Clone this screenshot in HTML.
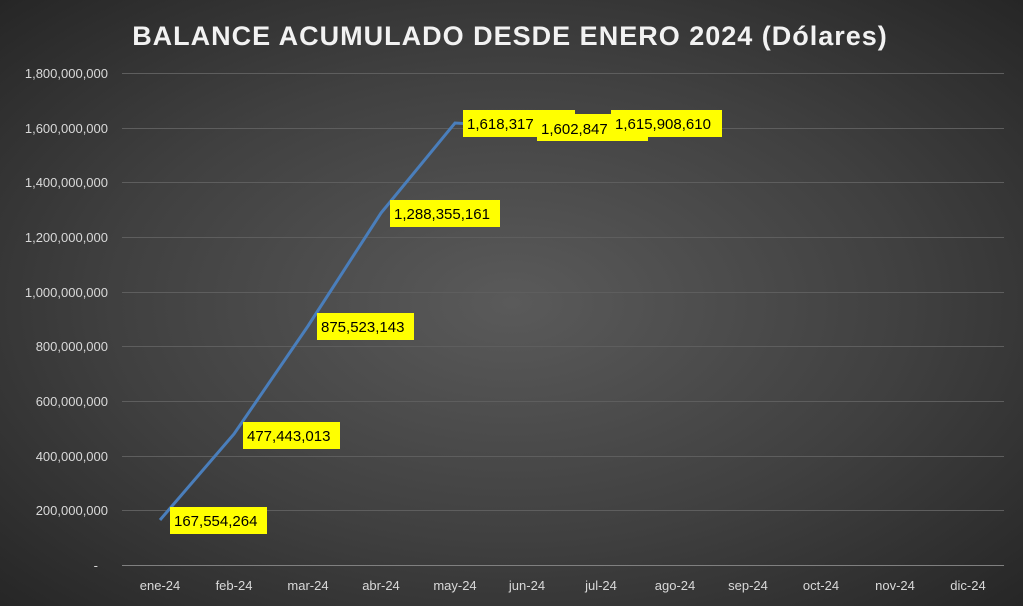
<!DOCTYPE html><html><head><style>
body{margin:0;width:1023px;height:606px;overflow:hidden;background:radial-gradient(ellipse at 50% 50%,#5a5a5a 0%,#404040 55%,#262626 100%);font-family:"Liberation Sans",sans-serif}
</style></head><body>
<svg width="1023" height="606" xmlns="http://www.w3.org/2000/svg" style="position:absolute;left:0;top:0">
<text x="510" y="45" text-anchor="middle" fill="#f2f2f2" font-size="27" font-weight="bold" font-family="Liberation Sans" letter-spacing="1">BALANCE ACUMULADO DESDE ENERO 2024 (Dólares)</text>
<g stroke="#5e5e5e" stroke-width="1">
<line x1="122" x2="1004" y1="73.5" y2="73.5"/><line x1="122" x2="1004" y1="128.5" y2="128.5"/><line x1="122" x2="1004" y1="182.5" y2="182.5"/><line x1="122" x2="1004" y1="237.5" y2="237.5"/><line x1="122" x2="1004" y1="292.5" y2="292.5"/><line x1="122" x2="1004" y1="346.5" y2="346.5"/><line x1="122" x2="1004" y1="401.5" y2="401.5"/><line x1="122" x2="1004" y1="456.5" y2="456.5"/><line x1="122" x2="1004" y1="510.5" y2="510.5"/></g>
<line x1="122" x2="1004" y1="565.5" y2="565.5" stroke="#808080"/>
<g fill="#d9d9d9" font-size="13" text-anchor="end">
<text x="108" y="78">1,800,000,000</text><text x="108" y="133">1,600,000,000</text><text x="108" y="187">1,400,000,000</text><text x="108" y="242">1,200,000,000</text><text x="108" y="297">1,000,000,000</text><text x="108" y="351">800,000,000</text><text x="108" y="406">600,000,000</text><text x="108" y="461">400,000,000</text><text x="108" y="515">200,000,000</text><text x="98" y="570">-</text></g>
<g fill="#d9d9d9" font-size="13" text-anchor="middle">
<text x="160" y="590">ene-24</text><text x="234" y="590">feb-24</text><text x="308" y="590">mar-24</text><text x="381" y="590">abr-24</text><text x="455" y="590">may-24</text><text x="527" y="590">jun-24</text><text x="601" y="590">jul-24</text><text x="675" y="590">ago-24</text><text x="748" y="590">sep-24</text><text x="821" y="590">oct-24</text><text x="895" y="590">nov-24</text><text x="968" y="590">dic-24</text></g>
<polyline points="160,520 234,434 308,326 381,213 455,123 527,127 601,123" fill="none" stroke="#4a7ebb" stroke-width="3"/>
<g font-size="15" fill="#000">
<rect x="170" y="507" width="97" height="27" fill="#ffff00"/><text x="174" y="526">167,554,264</text>
<rect x="243" y="422" width="97" height="27" fill="#ffff00"/><text x="247" y="441">477,443,013</text>
<rect x="317" y="313" width="97" height="27" fill="#ffff00"/><text x="321" y="332">875,523,143</text>
<rect x="390" y="200" width="110" height="27" fill="#ffff00"/><text x="394" y="219">1,288,355,161</text>
<rect x="463" y="110" width="112" height="27" fill="#ffff00"/><text x="467" y="129">1,618,317</text>
<rect x="537" y="114" width="111" height="27" fill="#ffff00"/><text x="541" y="134">1,602,847</text>
<rect x="611" y="110" width="111" height="27" fill="#ffff00"/><text x="615" y="129">1,615,908,610</text>
</g>
</svg>
</body></html>
